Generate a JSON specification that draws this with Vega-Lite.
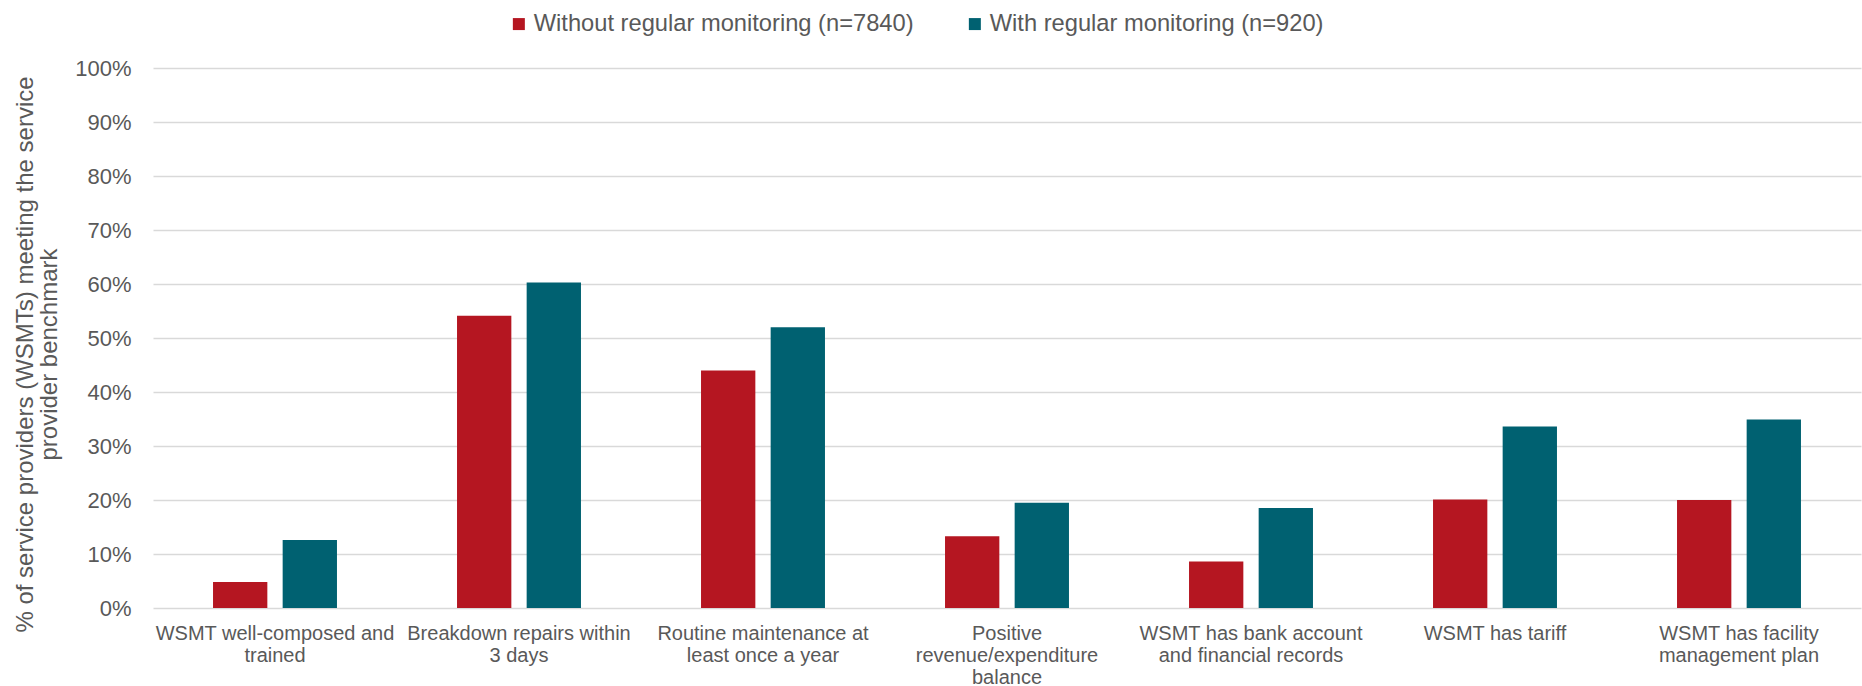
{
  "$schema": "https://vega.github.io/schema/vega-lite/v6.json",
  "width": 1708,
  "height": 540,
  "autosize": {"type": "none"},
  "padding": {"left": 153, "top": 68, "right": 1, "bottom": 78},
  "background": "white",
  "config": {
    "view": {"stroke": null},
    "font": "Liberation Sans"
  },
  "data": {
    "values": [
      {"category": "WSMT well-composed and trained", "group": "Without regular monitoring (n=7840)", "value": 0.048},
      {"category": "WSMT well-composed and trained", "group": "With regular monitoring (n=920)", "value": 0.126},
      {"category": "Breakdown repairs within 3 days", "group": "Without regular monitoring (n=7840)", "value": 0.541},
      {"category": "Breakdown repairs within 3 days", "group": "With regular monitoring (n=920)", "value": 0.603},
      {"category": "Routine maintenance at least once a year", "group": "Without regular monitoring (n=7840)", "value": 0.440},
      {"category": "Routine maintenance at least once a year", "group": "With regular monitoring (n=920)", "value": 0.520},
      {"category": "Positive revenue/expenditure balance", "group": "Without regular monitoring (n=7840)", "value": 0.133},
      {"category": "Positive revenue/expenditure balance", "group": "With regular monitoring (n=920)", "value": 0.195},
      {"category": "WSMT has bank account and financial records", "group": "Without regular monitoring (n=7840)", "value": 0.086},
      {"category": "WSMT has bank account and financial records", "group": "With regular monitoring (n=920)", "value": 0.185},
      {"category": "WSMT has tariff", "group": "Without regular monitoring (n=7840)", "value": 0.201},
      {"category": "WSMT has tariff", "group": "With regular monitoring (n=920)", "value": 0.336},
      {"category": "WSMT has facility management plan", "group": "Without regular monitoring (n=7840)", "value": 0.200},
      {"category": "WSMT has facility management plan", "group": "With regular monitoring (n=920)", "value": 0.349}
    ]
  },
  "mark": {"type": "bar"},
  "encoding": {
    "x": {
      "field": "category",
      "type": "nominal",
      "sort": [
        "WSMT well-composed and trained",
        "Breakdown repairs within 3 days",
        "Routine maintenance at least once a year",
        "Positive revenue/expenditure balance",
        "WSMT has bank account and financial records",
        "WSMT has tariff",
        "WSMT has facility management plan"
      ],
      "scale": {"paddingInner": 0.492, "paddingOuter": 0.246},
      "axis": {
        "title": null,
        "domain": false,
        "ticks": false,
        "labelAngle": 0,
        "labelFontSize": 20,
        "labelColor": "#595959",
        "labelLineHeight": 22,
        "labelPadding": 15,
        "labelLimit": 400,
        "labelOverlap": false,
        "labelExpr": "datum.label == 'WSMT well-composed and trained' ? ['WSMT well-composed and', 'trained'] : datum.label == 'Breakdown repairs within 3 days' ? ['Breakdown repairs within', '3 days'] : datum.label == 'Routine maintenance at least once a year' ? ['Routine maintenance at', 'least once a year'] : datum.label == 'Positive revenue/expenditure balance' ? ['Positive', 'revenue/expenditure', 'balance'] : datum.label == 'WSMT has bank account and financial records' ? ['WSMT has bank account', 'and financial records'] : datum.label == 'WSMT has facility management plan' ? ['WSMT has facility', 'management plan'] : datum.label"
      }
    },
    "xOffset": {
      "field": "group",
      "type": "nominal",
      "sort": ["Without regular monitoring (n=7840)", "With regular monitoring (n=920)"],
      "scale": {"paddingInner": 0.22}
    },
    "y": {
      "field": "value",
      "type": "quantitative",
      "scale": {"domain": [0, 1], "nice": false},
      "axis": {
        "values": [0, 0.1, 0.2, 0.3, 0.4, 0.5, 0.6, 0.7, 0.8, 0.9, 1.0],
        "format": ".0%",
        "domain": false,
        "ticks": false,
        "grid": true,
        "gridColor": "#D9D9D9",
        "gridWidth": 1.5,
        "labelFontSize": 22,
        "labelColor": "#595959",
        "labelPadding": 22,
        "title": ["% of service providers (WSMTs) meeting the service", "provider benchmark"],
        "titleFontSize": 24,
        "titleFontWeight": "normal",
        "titleColor": "#595959",
        "titleLineHeight": 24,
        "titleAngle": -90,
        "titleAlign": "center",
        "titleBaseline": "bottom",
        "titleX": -116,
        "titleY": 286
      }
    },
    "color": {
      "field": "group",
      "type": "nominal",
      "sort": ["Without regular monitoring (n=7840)", "With regular monitoring (n=920)"],
      "scale": {
        "domain": ["Without regular monitoring (n=7840)", "With regular monitoring (n=920)"],
        "range": ["#B51621", "#006171"]
      },
      "legend": {
        "orient": "none",
        "legendX": 354,
        "legendY": -56,
        "direction": "horizontal",
        "title": null,
        "symbolType": "square",
        "symbolSize": 144,
        "symbolStrokeWidth": 0,
        "labelFontSize": 23.7,
        "labelColor": "#595959",
        "labelOffset": 3,
        "columnPadding": 49,
        "labelLimit": 500
      }
    }
  }
}
